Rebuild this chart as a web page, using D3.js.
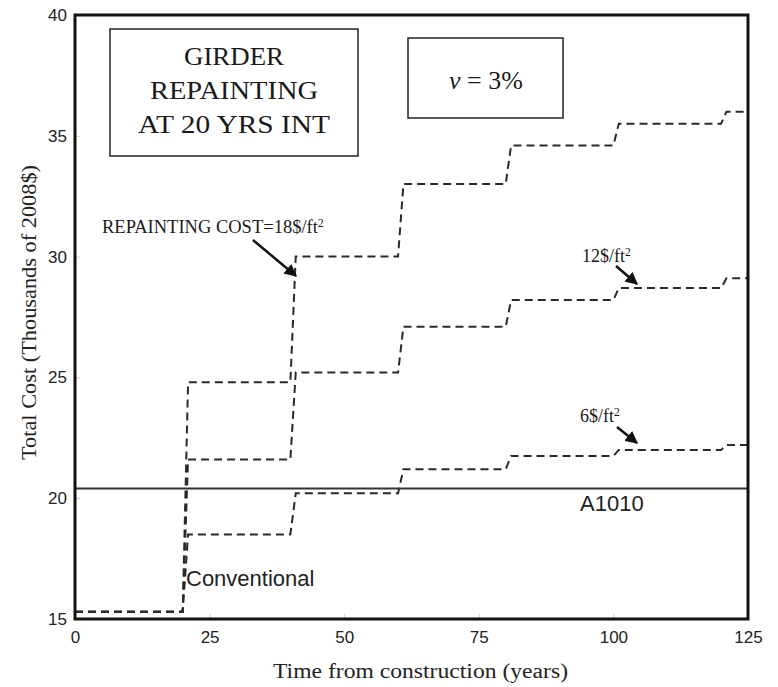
<!DOCTYPE html>
<html>
<head>
<meta charset="utf-8">
<script src="https://cdn.jsdelivr.net/npm/d3@7"></script>
<style>
  body { margin: 0; background: #fff; }
  svg { display: block; }
</style>
</head>
<body>
<script>
// step years (repainting every 20 years) and cost levels per series
const years = [0, 20, 40, 60, 80, 100, 120, 125];
const cost18 = [15.3, 24.8, 30.0, 33.0, 34.6, 35.5, 36.0];
const cost12 = [15.3, 21.6, 25.2, 27.1, 28.2, 28.7, 29.1];
const cost6 = [15.3, 18.5, 20.2, 21.2, 21.75, 22.0, 22.2];
const a1010 = 20.4;
const xTicks = [0, 25, 50, 75, 100, 125];
const yTicks = [15, 20, 25, 30, 35, 40];

const W = 778, H = 687;
const m = { left: 75, right: 30, top: 15, bottom: 68 };

const svg = d3.select("body").append("svg")
    .attr("width", W)
    .attr("height", H);

const x = d3.scaleLinear().domain([0, 125]).range([m.left, W - m.right]);
const y = d3.scaleLinear().domain([15, 40]).range([H - m.bottom, m.top]);

const serif = "'Liberation Serif', 'Times New Roman', serif";
const sans = "'Liberation Sans', Arial, sans-serif";

// axes with small inward ticks
const xAxis = svg.append("g")
    .attr("transform", "translate(0," + y(15) + ")")
    .call(d3.axisBottom(x).tickValues(xTicks).tickSizeInner(-5).tickSizeOuter(0).tickPadding(12));
const yAxis = svg.append("g")
    .attr("transform", "translate(" + x(0) + ",0)")
    .call(d3.axisLeft(y).tickValues(yTicks).tickSizeInner(-5).tickSizeOuter(0).tickPadding(8));
[xAxis, yAxis].forEach(function (g) {
    g.select(".domain").remove();
    g.selectAll(".tick line").attr("stroke", "#ccc");
    g.selectAll(".tick text")
        .attr("font-family", sans)
        .attr("font-size", 17)
        .attr("fill", "#222");
});

// turn the levels into a step path, each rise taking about a year
function stepPoints(levels) {
    const pts = [[years[0], levels[0]]];
    for (let i = 1; i < levels.length; i++) {
        pts.push([years[i], levels[i - 1]]);
        pts.push([years[i] + 1, levels[i]]);
    }
    pts.push([years[years.length - 1], levels[levels.length - 1]]);
    return pts;
}

const line = d3.line()
    .x(function (d) { return x(d[0]); })
    .y(function (d) { return y(d[1]); });

[cost6, cost12, cost18].forEach(function (levels) {
    svg.append("path")
        .attr("d", line(stepPoints(levels)))
        .attr("fill", "none")
        .attr("stroke", "#2a2a2a")
        .attr("stroke-width", 2)
        .attr("stroke-dasharray", "8,5");
});

// A1010 reference line
svg.append("line")
    .attr("x1", x(0)).attr("x2", x(125))
    .attr("y1", y(a1010)).attr("y2", y(a1010))
    .attr("stroke", "#333")
    .attr("stroke-width", 2);
svg.append("text")
    .attr("x", 580).attr("y", 511)
    .attr("font-family", sans).attr("font-size", 22)
    .attr("fill", "#222")
    .text("A1010");
svg.append("text")
    .attr("x", 186).attr("y", 586)
    .attr("font-family", sans).attr("font-size", 22)
    .attr("fill", "#222")
    .text("Conventional");

// frame
svg.append("rect")
    .attr("x", x(0)).attr("y", y(40))
    .attr("width", x(125) - x(0))
    .attr("height", y(15) - y(40))
    .attr("fill", "none")
    .attr("stroke", "#111")
    .attr("stroke-width", 3);

// title boxes
svg.append("rect")
    .attr("x", 110).attr("y", 29).attr("width", 248).attr("height", 127)
    .attr("fill", "none").attr("stroke", "#222").attr("stroke-width", 1.5);
const titleLines = ["GIRDER", "REPAINTING", "AT 20 YRS INT"];
const titleWidths = [100, 168, 192];
titleLines.forEach(function (t, i) {
    svg.append("text")
        .attr("x", 234 - titleWidths[i] / 2).attr("y", 65 + i * 34)
        .attr("font-family", serif).attr("font-size", 25)
        .attr("textLength", titleWidths[i])
        .attr("lengthAdjust", "spacingAndGlyphs")
        .attr("fill", "#1a1a1a")
        .text(t);
});

svg.append("rect")
    .attr("x", 408).attr("y", 38).attr("width", 155).attr("height", 80)
    .attr("fill", "none").attr("stroke", "#222").attr("stroke-width", 1.5);
const nu = svg.append("text")
    .attr("x", 486).attr("y", 89)
    .attr("text-anchor", "middle")
    .attr("font-family", serif).attr("font-size", 26)
    .attr("fill", "#1a1a1a");
nu.append("tspan").attr("font-style", "italic").text("ν");
nu.append("tspan").text(" = 3%");

// series annotations with arrows
svg.append("defs").append("marker")
    .attr("id", "arr")
    .attr("viewBox", "0 0 10 10")
    .attr("refX", 9).attr("refY", 5)
    .attr("markerWidth", 5).attr("markerHeight", 5)
    .attr("orient", "auto")
    .append("path")
    .attr("d", "M0,0 L10,5 L0,10 z")
    .attr("fill", "#111");

const notes = [
    { text: "REPAINTING COST=18$/ft", tx: 102, ty: 233, size: 18.5, a: [253, 240, 296, 276] },
    { text: "12$/ft", tx: 582, ty: 262, size: 18, a: [616, 266, 637, 284] },
    { text: "6$/ft", tx: 580, ty: 422, size: 18, a: [617, 427, 637, 443] }
];
notes.forEach(function (n) {
    const t = svg.append("text")
        .attr("x", n.tx).attr("y", n.ty)
        .attr("font-family", serif).attr("font-size", n.size)
        .attr("fill", "#1a1a1a")
        .text(n.text);
    t.append("tspan").attr("font-size", n.size * 0.65).attr("dy", -6).text("2");
    svg.append("line")
        .attr("x1", n.a[0]).attr("y1", n.a[1])
        .attr("x2", n.a[2]).attr("y2", n.a[3])
        .attr("stroke", "#111").attr("stroke-width", 2.5)
        .attr("marker-end", "url(#arr)");
});

// axis titles
svg.append("text")
    .attr("x", 273).attr("y", 678)
    .attr("font-family", serif).attr("font-size", 20)
    .attr("textLength", 295)
    .attr("lengthAdjust", "spacingAndGlyphs")
    .attr("fill", "#222")
    .text("Time from construction (years)");
svg.append("text")
    .attr("transform", "translate(36,460) rotate(-90)")
    .attr("font-family", serif).attr("font-size", 20)
    .attr("textLength", 295)
    .attr("lengthAdjust", "spacingAndGlyphs")
    .attr("fill", "#222")
    .text("Total Cost (Thousands of 2008$)");
</script>
</body>
</html>
